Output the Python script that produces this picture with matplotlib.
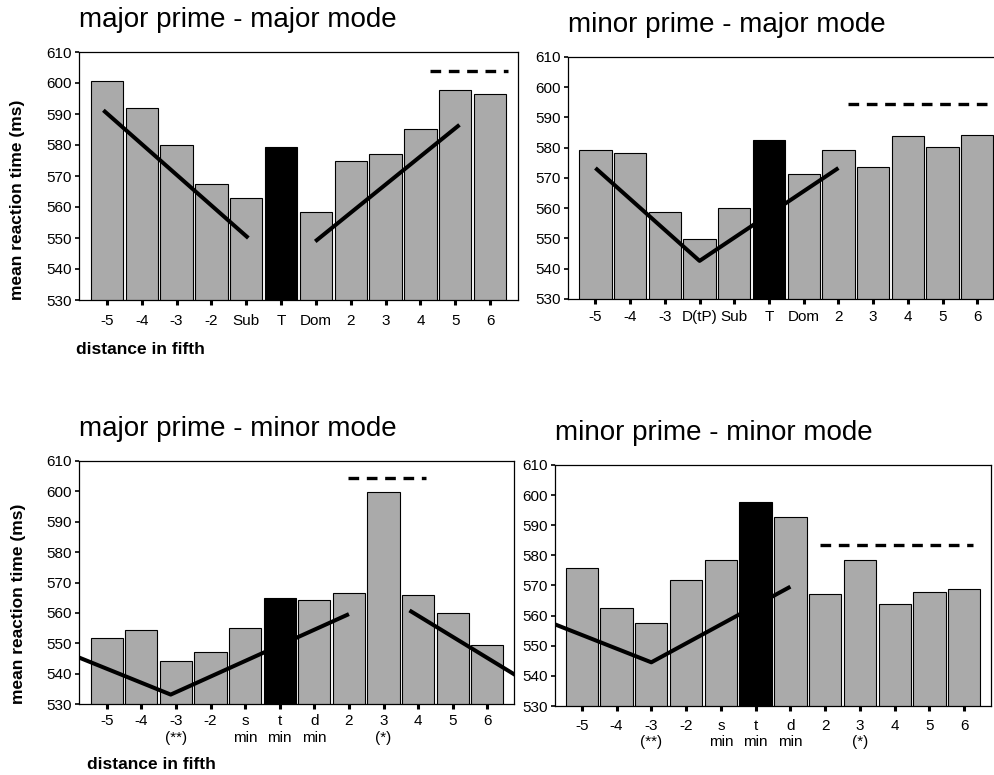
import matplotlib
matplotlib.use('Agg')
import matplotlib.pyplot as plt
import numpy as np

plt.rcParams['font.family'] = ['Liberation Sans', 'DejaVu Sans']

# tick labels per panel
labels_major = ['-5', '-4', '-3', '-2', 'Sub', 'T', 'Dom', '2', '3', '4', '5', '6']
labels_dtp = ['-5', '-4', '-3', 'D(tP)', 'Sub', 'T', 'Dom', '2', '3', '4', '5', '6']
labels_minor = ['-5', '-4', '-3\n(**)', '-2', 's\nmin', 't\nmin', 'd\nmin', '2', '3\n(*)', '4', '5', '6']

# mean reaction times (ms)
rt_maj_maj = [600.6, 592, 580, 567.5, 563, 579.5, 558.5, 574.7, 577.2, 585.2, 597.6, 596.3]
rt_min_maj = [579.3, 578.3, 558.7, 549.8, 560, 582.6, 571.3, 579.3, 573.8, 583.9, 580.4, 584.2]
rt_maj_min = [551.6, 554.4, 544.1, 547, 555, 565, 564.2, 566.4, 599.7, 566, 560, 549.4]
rt_min_min = [575.7, 562.5, 557.7, 571.8, 578.5, 597.7, 592.7, 567.2, 578.5, 564, 567.9, 569]
tonic = 5

# trend lines: list of (x points, y points)
trend_maj_maj = [([-0.1, 4.06], [591.2, 550]), ([5.98, 10.12], [548.9, 586.5])]
trend_min_maj = [([0, 3, 7], [573.3, 542.6, 573.3])]
trend_maj_min = [([-0.8, 1.85, 7], [545.3, 533.1, 559.6]), ([8.75, 11.8], [560.8, 539.6])]
trend_min_min = [([-0.77, 2, 6], [557.1, 544.5, 569.6])]

# dashed reference lines: (x start, x end, y)
dash_maj_maj = (9.28, 11.5, 603.8)
dash_min_maj = (7.28, 11.8, 594.3)
dash_maj_min = (6.96, 9.23, 604.3)
dash_min_min = (6.84, 11.25, 583.5)

W, H = 995, 775
fig = plt.figure(figsize=(W / 100, H / 100), dpi=100)


def px_axes(left, top, right, bottom):
    return fig.add_axes([left / W, 1 - bottom / H, (right - left) / W, (bottom - top) / H])


panels = [
    # title, box px, xlim, labels, data, trends, dash, xpad, ylabel, xlabel pos
    ('major prime - major mode', (79, 52, 518, 300), (-0.8, 11.8), labels_major,
     rt_maj_maj, trend_maj_maj, dash_maj_maj, 6.5, True, (76, 354)),
    ('minor prime - major mode', (568, 57, 1005, 299), (-0.79, 11.8), labels_dtp,
     rt_min_maj, trend_min_maj, dash_min_maj, 4.5, False, None),
    ('major prime - minor mode', (79, 461, 514, 704), (-0.8, 11.77), labels_minor,
     rt_maj_min, trend_maj_min, dash_maj_min, 4.0, True, (87, 769)),
    ('minor prime - minor mode', (555, 465, 991, 706), (-0.77, 11.77), labels_minor,
     rt_min_min, trend_min_min, dash_min_min, 5.5, False, None),
]

for title, box, xlim, labels, vals, trends, dash, xpad, has_ylabel, xl_pos in panels:
    ax = px_axes(*box)
    x = np.arange(len(vals))
    colors = ['#aaaaaa'] * len(vals)
    colors[tonic] = 'black'
    ax.bar(x, vals, width=0.93, color=colors, edgecolor='black', linewidth=0.8, zorder=2)
    for tx, ty in trends:
        ax.plot(tx, ty, color='black', lw=2.9, solid_capstyle='butt', zorder=3)
    ax.plot([dash[0], dash[1]], [dash[2], dash[2]], color='black', lw=2.4,
            linestyle=(0, (3.2, 2.3)), zorder=3)
    ax.set_xlim(*xlim)
    ax.set_ylim(530, 610)
    ax.set_yticks(np.arange(530, 611, 10))
    ax.set_xticks(x)
    ax.set_xticklabels(labels, linespacing=1.25)
    ax.tick_params(axis='x', length=3.5, width=2.2, pad=xpad, labelsize=11)
    ax.tick_params(axis='y', length=3, width=1.2, pad=2, labelsize=11)
    for s in ax.spines.values():
        s.set_linewidth(0.9)
    ax.set_title(title, loc='left', fontsize=20, pad=18)
    if has_ylabel:
        ax.text(-0.14, 0, 'mean reaction time (ms)', transform=ax.transAxes, rotation=90,
                ha='center', va='bottom', fontsize=12.5, fontweight='bold')
    if xl_pos is not None:
        fig.text(xl_pos[0] / W, 1 - xl_pos[1] / H, 'distance in fifth', ha='left',
                 va='baseline', fontsize=12.5, fontweight='bold')

fig.savefig('out.png', dpi=100)
